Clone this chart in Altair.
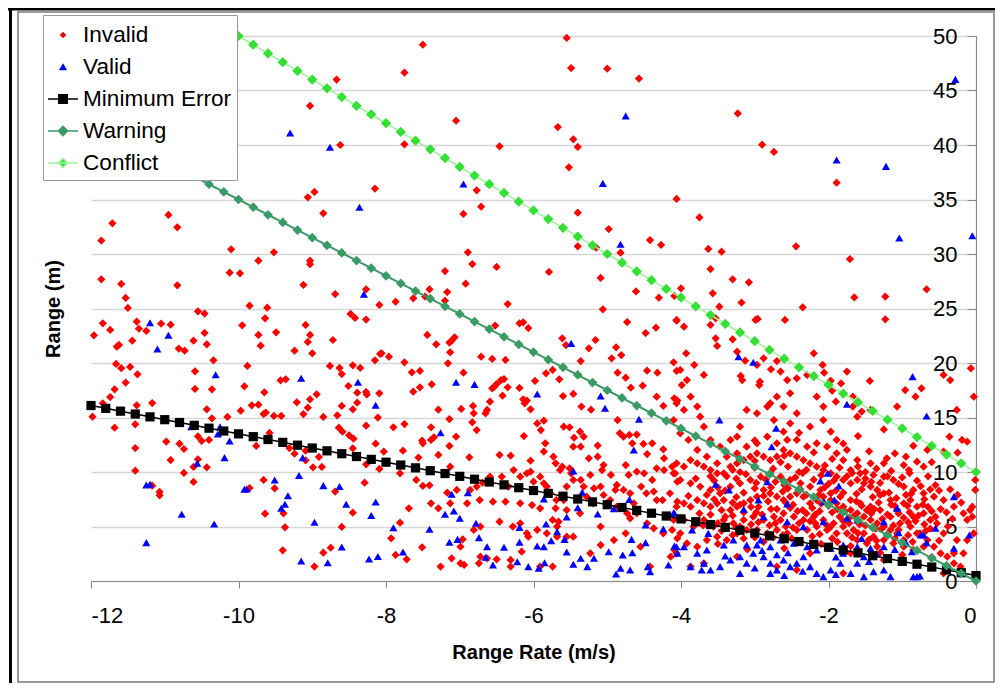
import altair as alt
import pandas as pd

# ---------------- data ----------------
invalid_pts = [
    (-9.06,35.20),(-8.97,35.69),(-8.15,36.00),(-8.85,33.73),(-10.95,33.58),(-11.71,32.82),(-10.83,32.45),(-11.86,31.23),
    (-10.10,30.43),(-9.52,30.16),(-9.73,29.39),(-9.03,29.39),(-9.03,29.06),(-10.12,28.29),(-9.98,28.23),(-11.86,27.68),
    (-11.59,27.25),(-10.83,27.13),(-9.12,27.16),(-11.53,25.97),(-8.69,26.33),(-8.27,26.76),(-11.50,25.05),(-10.55,24.74),
    (-10.46,24.53),(-9.85,25.26),(-9.61,25.08),(-9.64,24.10),(-8.48,24.50),(-8.42,24.13),(-8.27,23.98),(-8.09,25.33),
    (-11.84,23.64),(-11.38,23.80),(-11.35,23.15),(-11.74,23.03),(-11.25,22.94),(-11.05,23.61),(-10.92,23.52),(-9.95,23.46),
    (-9.09,23.49),(-11.96,22.54),(-10.46,22.76),(-9.73,22.57),(-9.49,22.82),(-9.03,22.57),(-11.65,21.50),(-11.62,21.66),
    (-11.44,22.05),(-10.81,21.32),(-10.73,21.13),(-10.61,22.05),(-10.43,21.72),(-9.70,21.59),(-9.06,21.93),(-8.72,22.11),
    (-9.24,21.13),(-9.00,20.89),(-8.08,20.83),(-11.66,19.91),(-11.59,19.52),(-11.47,19.64),(-11.37,18.96),(-10.59,19.24),
    (-10.34,20.25),(-9.88,19.73),(-8.76,19.73),(-8.63,19.55),(-8.60,18.99),(-8.45,19.79),(-8.35,19.55),(-8.15,20.25),
    (-11.53,18.20),(-11.68,17.59),(-11.74,16.88),(-11.84,16.30),(-11.98,15.08),(-11.68,14.07),(-11.38,16.12),(-11.17,16.33),
    (-11.40,14.38),(-11.40,12.20),(-11.40,10.12),(-10.98,12.79),(-10.92,11.10),(-10.80,12.60),(-10.74,12.11),(-10.59,17.62),
    (-10.36,17.59),(-10.43,15.75),(-10.36,14.93),(-10.55,13.27),(-10.50,12.85),(-10.40,12.94),(-10.55,11.16),(-10.61,10.46),
    (-10.43,10.43),(-10.74,9.91),(-10.61,9.09),(-11.17,8.75),(-11.07,8.17),(-11.07,7.86),(-10.15,15.05),(-9.97,15.63),
    (-9.92,17.86),(-9.65,17.31),(-9.82,16.12),(-9.73,16.18),(-9.66,15.32),(-9.63,15.45),(-9.52,15.14),(-9.42,15.14),
    (-9.43,18.41),(-9.36,18.50),(-9.58,13.58),(-9.76,12.39),(-9.31,12.20),(-9.24,11.68),(-9.09,11.96),(-9.03,16.67),
    (-8.94,17.13),(-9.21,16.39),(-9.12,15.32),(-9.06,15.90),(-8.85,15.05),(-8.66,15.20),(-8.51,17.89),(-8.39,17.28),
    (-8.39,16.36),(-8.45,15.75),(-8.27,17.34),(-8.26,17.10),(-8.09,17.22),(-8.60,16.06),(-8.64,14.07),(-8.59,13.70),
    (-8.50,13.37),(-8.44,13.06),(-8.45,12.17),(-9.09,11.07),(-8.99,10.43),(-8.91,11.38),(-8.87,10.46),(-8.27,14.25),
    (-8.14,12.60),(-8.11,14.99),(-8.09,10.28),(-8.27,10.71),(-8.29,9.02),(-8.69,8.20),(-8.45,6.27),(-8.60,4.96),
    (-8.75,3.06),(-8.85,2.60),(-8.97,1.32),(-9.37,4.93),(-9.40,2.82),(-9.39,6.21),(-9.64,6.18),(-9.66,9.27),
    (-9.51,8.50),(-9.85,8.53),
    (-7.50,49.20),(-7.75,46.64),(-5.55,49.82),(-5.49,47.06),(-5.00,47.00),(-4.57,46.09),(-7.05,42.23),(-5.67,41.65),
    (-5.46,40.52),(-5.40,39.82),(-7.75,40.06),(-6.46,39.88),(-5.52,37.95),(-6.77,35.84),(-6.71,34.34),(-6.95,33.67),
    (-5.40,33.79),(-4.98,32.29),(-4.06,35.05),(-4.42,31.28),(-4.27,30.83),(-5.40,30.70),(-5.15,30.58),(-4.82,30.12),
    (-6.89,30.15),(-6.83,29.08),(-7.20,28.44),(-6.50,28.81),(-5.79,28.35),(-6.92,27.28),(-7.41,26.76),(-7.17,26.51),
    (-7.63,25.93),(-7.47,26.09),(-7.20,25.72),(-7.87,25.63),(-6.35,25.41),(-5.09,27.80),(-4.61,26.57),(-4.30,25.99),
    (-4.09,26.15),(-4.00,26.85),(-5.06,24.92),
    (-4.06,23.88),(-4.73,23.76),(-4.34,23.24),(-4.48,22.75),(-6.19,23.64),(-6.14,23.73),(-6.07,23.21),(-6.52,23.43),
    (-7.44,22.57),(-7.32,21.71),(-7.14,21.87),(-7.11,22.05),(-7.07,22.36),(-7.13,20.98),(-7.16,19.97),(-6.71,20.58),
    (-6.56,20.37),(-6.38,20.28),(-8.06,20.89),(-7.96,20.58),(-7.75,20.06),(-7.65,19.14),(-7.54,19.27),(-7.38,18.04),
    (-7.54,17.77),(-7.63,17.37),(-7.29,15.72),(-7.14,14.86),(-6.98,15.78),(-6.95,19.11),(-6.82,16.06),(-6.81,15.38),
    (-6.83,14.56),(-6.77,13.85),(-6.63,15.69),(-6.65,15.38),(-6.59,16.45),(-6.56,17.68),(-6.53,17.83),(-6.50,18.07),
    (-6.44,18.44),(-6.40,18.53),(-6.42,17.00),(-6.35,17.77),(-6.19,17.71),(-6.14,16.67),(-6.12,16.30),(-6.04,15.75),
    (-6.09,16.55),(-5.98,18.35),(-5.83,19.05),(-5.74,19.36),(-5.65,18.50),(-5.60,16.97),(-5.46,17.16),(-5.35,16.00),
    (-5.22,15.72),(-5.36,20.18),(-5.25,21.35),(-5.16,22.11),(-5.61,22.26),(-5.56,21.65),(-4.88,21.44),(-4.81,20.73),
    (-4.94,20.43),(-4.86,19.11),(-4.75,18.65),(-4.68,17.74),(-4.52,17.92),(-4.33,16.91),(-4.24,16.06),(-4.46,19.30),
    (-4.32,19.11),(-4.10,20.06),(-4.06,19.27),(-4.09,16.76),(-4.05,16.55),(-7.90,14.10),(-7.75,14.40),(-7.39,14.10),
    (-7.35,13.18),(-7.14,12.39),(-7.05,13.24),(-8.03,11.87),(-7.77,11.96),(-7.56,11.32),(-7.50,12.63),(-7.51,12.87),
    (-7.39,12.94),(-7.29,11.56),(-7.13,10.49),(-6.87,11.35),(-6.46,11.56),(-6.31,11.50),(-6.13,13.30),(-6.04,11.04),
    (-5.95,14.46),(-5.90,13.85),(-5.86,14.71),(-5.84,12.63),(-5.86,11.87),(-5.73,11.41),(-5.70,10.80),(-5.61,10.49),
    (-5.64,10.18),(-5.51,10.34),(-5.49,9.88),(-5.59,14.16),(-5.51,14.10),(-5.45,13.15),(-5.37,13.70),(-5.32,13.24),
    (-5.46,12.32),(-5.36,12.32),(-5.13,12.42),(-5.13,11.41),(-5.23,9.73),(-5.25,11.26),(-5.05,10.64),(-5.07,10.18),
    (-4.95,9.73),(-4.83,13.55),(-4.86,14.77),(-4.78,13.24),(-4.70,13.40),(-4.66,12.63),(-4.60,13.43),(-4.51,12.57),
    (-4.39,12.63),(-4.46,11.65),(-4.24,12.08),(-4.23,11.26),(-4.12,10.49),(-4.08,9.88),(-4.05,9.11),(-4.23,10.18),
    (-4.33,10.34),(-4.39,9.27),(-4.50,9.88),(-4.54,8.66),(-4.47,8.04),(-4.37,8.20),(-4.33,7.43),(-4.15,8.04),
    (-4.05,7.28),(-4.25,7.43),(-4.60,10.03),(-4.71,9.73),(-4.75,10.64),(-4.87,8.81),(-4.89,8.35),(-4.78,8.35),
    (-4.69,8.04),(-4.64,7.13),(-4.73,6.21),(-4.87,6.82),(-4.96,7.43),(-5.05,7.89),(-5.09,8.66),(-5.18,8.50),
    (-5.19,7.13),(-5.28,7.74),(-5.32,8.66),(-5.36,9.27),(-5.46,9.27),(-5.55,8.66),(-5.59,7.43),(-5.69,7.43),
    (-5.77,8.04),(-5.82,8.66),(-5.86,8.96),(-5.91,9.57),(-6.00,9.11),(-6.04,10.03),(-6.09,9.88),(-6.18,9.57),
    (-6.27,10.18),(-6.34,8.66),(-6.43,9.57),(-6.59,9.57),(-6.69,9.02),(-6.77,8.66),(-6.86,8.35),(-6.90,7.13),
    (-6.73,7.43),(-6.55,7.28),(-6.38,7.28),(-6.18,7.13),(-6.02,6.97),(-5.91,6.67),(-5.70,6.67),(-5.55,6.51),
    (-5.37,6.21),(-5.09,4.99),(-5.74,5.60),(-5.66,5.44),(-5.68,4.99),(-6.18,5.29),(-6.28,4.99),(-6.46,5.44),
    (-6.72,4.99),(-6.81,4.68),(-6.96,3.82),(-6.99,3.15),(-7.11,2.08),(-6.99,1.62),(-7.26,1.32),(-6.94,1.47),
    (-6.74,1.62),(-6.72,2.23),(-6.63,2.08),(-6.50,1.99),(-6.31,1.32),(-6.31,1.93),(-6.16,2.69),(-6.07,4.07),
    (-5.91,1.32),(-5.74,1.32),(-5.55,4.07),(-5.46,4.07),(-5.68,4.07),(-5.82,4.37),(-5.95,4.68),(-6.09,4.37),
    (-5.23,2.54),(-5.09,3.30),(-4.91,3.76),(-4.75,4.37),(-4.55,3.15),(-4.42,1.32),(-4.24,4.37),(-4.12,4.68),
    (-4.05,3.92),(-4.09,2.85),(-4.14,2.23),(-4.37,4.83),(-4.46,5.29),(-4.69,5.75),(-4.60,6.21),(-7.93,3.92),
    (-7.87,2.39),(-7.72,1.99),(-7.51,3.09),(-7.50,8.72),(-7.59,9.27),(-7.41,8.78),(-7.81,9.88),(-7.69,6.67),
    (-7.81,5.35),(-7.39,7.13),(-7.13,7.13),(-7.29,6.67),(-7.04,8.35),(-7.17,8.10),
    (-3.23,42.90),(-2.90,40.03),(-2.74,39.36),(-1.89,36.54),(-3.75,33.36),(-3.63,30.46),(-3.45,30.21),(-3.60,28.62),
    (-2.44,30.70),(-1.71,29.54),(-3.30,27.68),(-3.08,27.40),(-3.57,26.39),(-3.18,25.54),(-3.48,25.17),(-2.35,25.11),
    (-1.65,26.02),(-1.23,26.09),(-0.67,26.76),
    (-4.06,23.95),(-3.96,23.33),(-3.93,20.89),(-4.01,19.36),(-3.92,18.44),(-3.99,17.98),(-3.69,18.90),(-3.82,19.82),
    (-3.60,23.49),(-3.53,24.10),(-3.51,21.56),(-3.53,22.26),(-3.30,22.17),(-2.99,23.95),(-2.96,24.04),(-2.59,23.95),
    (-1.23,24.01),(-3.24,21.04),(-3.17,18.44),(-3.19,18.81),(-3.13,20.21),(-2.97,19.82),(-2.88,20.43),(-2.78,19.42),
    (-2.93,18.29),(-2.94,17.98),(-2.70,20.18),(-2.65,19.21),(-2.56,18.44),(-2.70,16.91),(-2.79,16.30),(-2.61,16.00),
    (-2.52,17.22),(-2.43,18.59),(-2.29,18.90),(-2.20,20.89),(-2.08,19.82),(-2.06,19.11),(-1.97,18.38),(-1.95,17.46),
    (-2.16,16.91),(-2.07,16.00),(-1.90,16.45),(-1.83,18.13),(-1.75,19.21),(-1.67,16.91),(-1.67,16.00),(-1.61,15.08),
    (-1.44,18.35),(-1.55,15.54),(-1.43,15.69),(-1.07,16.00),(-0.96,17.52),(-0.82,16.91),(-0.74,17.68),(-0.44,18.90),
    (-0.35,18.44),(-0.26,15.69),(-0.07,19.51),(-0.03,16.91),(-0.19,12.94),(-0.12,12.78),(-0.44,11.87),(-0.66,12.02),
    (-0.71,10.49),(-0.80,10.95),(-0.91,10.18),(-0.98,10.64),(-1.21,11.26),(-1.43,10.80),(-1.61,11.10),(-1.75,12.02),
    (-1.89,12.94),(-1.97,13.70),(-2.07,14.77),(-2.25,14.16),(-2.43,15.38),(-2.52,14.47),(-2.61,13.70),(-2.74,14.77),
    (-2.83,16.00),(-2.97,15.38),(-3.11,15.69),(-3.20,14.16),(-3.24,13.24),(-3.33,12.94),(-3.47,12.32),(-3.60,12.94),
    (-3.69,14.16),(-3.74,15.08),(-3.78,16.00),(-3.87,16.91),(-3.96,15.69),(-4.06,16.30),(-4.10,14.77),(-4.01,13.55),
    (-3.90,12.94),(-3.78,12.02),(-3.65,11.41),(-3.51,10.80),(-3.38,11.41),(-3.24,11.71),(-3.11,12.32),(-2.97,12.63),
    (-2.83,13.24),(-2.70,12.63),(-2.56,12.94),(-2.43,12.94),(-2.29,12.32),(-2.16,12.63),(-2.02,12.32),(-1.89,11.71),
    (-1.80,11.10),(-1.70,10.18),(-1.57,9.88),(-1.39,9.73),(-1.25,9.57),(-1.12,9.27),(-0.98,8.66),(-0.85,8.35),
    (-0.71,8.04),(-0.57,7.74),(-0.44,7.43),(-0.30,6.82),(-0.17,6.21),(-0.05,6.82),(-0.01,8.35),(-0.01,9.27),
    (-0.05,5.90),(-0.03,4.37),(-0.12,3.76),(-0.26,3.76),(-0.30,2.54),(-0.44,4.37),(-0.53,5.29),(-0.62,5.60),
    (-0.71,6.21),(-0.80,6.82),(-0.89,7.43),(-0.98,7.13),(-1.07,6.51),(-1.16,7.43),(-1.25,8.04),(-1.34,8.35),
    (-1.43,8.66),(-1.52,8.96),(-1.61,9.27),(-1.70,8.96),(-1.80,9.27),(-1.89,9.57),(-1.97,9.88),(-2.07,10.18),
    (-2.16,10.49),(-2.25,10.80),(-2.34,11.10),(-2.43,11.41),(-2.52,11.71),(-2.61,12.02),(-2.70,11.41),(-2.79,11.10),
    (-2.88,11.41),(-2.97,11.71),(-3.06,11.41),(-3.15,11.10),(-3.24,10.80),(-3.33,10.49),(-3.42,9.88),(-3.51,9.88),
    (-3.60,10.18),(-3.69,10.49),(-3.78,10.80),(-3.87,11.10),(-3.96,10.49),(-4.06,10.80),(-4.10,9.88),(-4.01,9.27),
    (-3.87,8.96),(-3.74,8.66),(-3.60,8.35),(-3.47,8.04),(-3.33,8.66),(-3.20,8.96),(-3.06,9.27),(-2.92,9.57),
    (-2.79,9.88),(-2.65,9.57),(-2.52,9.27),(-2.38,8.96),(-2.25,8.66),(-2.11,8.35),(-1.97,8.04),(-1.84,7.74),
    (-1.70,7.43),(-1.57,7.13),(-1.43,6.82),(-1.30,6.51),(-1.16,5.90),(-1.03,5.29),(-0.89,4.99),(-0.76,4.37),
    (-0.66,3.76),(-0.57,3.15),(-0.48,2.54),(-0.39,2.23),(-0.30,1.62),(-0.21,1.32),(-0.17,2.54),(-0.44,0.70),
    (-0.98,3.76),(-1.07,4.37),(-1.16,4.68),(-1.25,4.99),(-1.34,5.29),(-1.43,5.60),(-1.52,5.90),(-1.61,6.21),
    (-1.70,6.51),(-1.80,6.82),(-1.89,7.13),(-1.97,7.43),(-2.07,7.74),(-2.16,7.43),(-2.25,7.13),(-2.34,7.74),
    (-2.43,8.04),(-2.52,7.74),(-2.61,7.43),(-2.70,7.74),(-2.79,8.04),(-2.88,8.35),(-2.97,7.74),(-3.06,7.43),
    (-3.15,7.13),(-3.24,6.82),(-3.33,6.51),(-3.42,7.43),(-3.51,7.13),(-3.60,6.82),(-3.69,7.13),(-3.78,7.43),
    (-3.87,6.82),(-3.96,7.13),(-4.06,6.82),(-4.10,5.60),(-3.96,5.60),(-3.83,4.99),(-3.69,5.60),(-3.56,4.99),
    (-3.42,5.60),(-3.29,5.29),(-3.15,5.60),(-3.02,5.90),(-2.88,5.60),(-2.74,5.90),(-2.61,6.21),(-2.47,5.90),
    (-2.34,5.60),(-2.20,5.90),(-2.07,5.60),(-1.93,5.29),(-1.80,4.99),(-1.66,4.68),(-1.52,4.37),(-1.39,4.07),
    (-1.25,3.76),(-1.12,3.46),(-0.98,3.15),(-0.85,2.85),(-0.71,3.15),(-0.80,4.37),(-1.34,3.15),(-1.48,3.46),
    (-1.61,3.76),(-1.75,4.37),(-1.89,4.37),(-2.02,4.68),(-2.16,4.99),(-2.29,4.68),(-2.43,4.68),(-2.56,4.37),
    (-2.70,4.68),(-2.83,4.37),(-2.97,4.68),(-3.11,4.68),(-3.24,4.37),(-3.38,3.76),(-3.51,4.07),(-3.65,3.76),
    (-3.78,3.15),(-3.92,3.46),(-4.01,4.37),(-4.06,2.54),(-3.87,1.32),(-3.69,1.62),(-3.24,2.23),(-2.70,1.32),
    (-2.25,2.54),(-1.70,2.54),(-1.25,1.93),(-1.80,0.70),(-2.43,1.01),
    (-0.25,11.77),(-0.36,13.24),(-0.08,6.51),(-0.12,5.60),(-8.67,46.00),(-8.62,40.00),(-9.03,43.60),
    # dense core, extra readings
    (-3.30,10.20),(-3.00,10.40),(-2.75,10.30),(-2.55,10.50),(-2.30,10.20),(-2.05,10.60),(-1.85,10.40),(-1.60,10.50),
    (-1.35,10.30),(-1.15,10.10),(-0.90,9.90),(-0.65,9.60),
    (-3.55,9.20),(-3.25,9.40),(-2.98,9.00),(-2.72,9.10),(-2.45,9.50),(-2.20,9.30),(-2.00,8.90),(-1.75,9.60),
    (-1.50,9.40),(-1.30,9.00),(-1.05,8.90),(-0.80,9.20),(-0.55,8.80),(-0.35,8.40),
    (-3.65,7.90),(-3.40,8.30),(-3.15,8.10),(-2.88,7.80),(-2.62,8.20),(-2.38,8.40),(-2.13,7.90),(-1.90,8.30),
    (-1.62,8.00),(-1.40,7.70),(-1.18,8.10),(-0.95,7.90),(-0.70,7.50),(-0.50,8.30),(-0.25,7.90),
    (-3.45,6.50),(-3.20,7.00),(-2.95,6.80),(-2.70,6.60),(-2.48,7.00),(-2.22,6.70),(-2.00,6.90),(-1.78,6.40),
    (-1.55,6.90),(-1.32,7.20),(-1.10,6.90),(-0.90,6.30),(-0.65,6.80),(-0.40,6.30),(-0.20,7.20),
    (-3.60,6.10),(-3.30,6.00),(-2.98,6.30),(-2.78,6.60),(-2.52,6.70),(-2.30,6.20),(-2.12,6.40),(-1.85,5.90),
    (-1.65,6.00),(-1.42,6.20),(-1.20,6.10),(-0.98,5.80),(-0.78,6.00),(-0.55,5.90),(-0.32,5.70),
    (-3.50,5.30),(-3.25,4.90),(-3.05,5.20),(-2.80,5.10),(-2.58,5.00),(-2.40,5.30),(-2.18,5.30),(-1.98,4.90),
    (-1.72,5.30),(-1.50,5.10),(-1.28,4.80),(-1.05,4.70),(-0.82,5.50),(-0.62,4.80),(-0.38,5.00),
    (-3.30,4.20),(-3.00,4.00),(-2.75,4.00),(-2.50,3.90),(-2.22,4.10),(-1.95,3.90),(-1.68,4.00),(-1.45,3.80),
    (-1.20,4.30),(-0.92,4.20),(-0.68,4.60),(-0.50,3.70),
    (-3.00,12.90),(-2.60,11.50),(-2.20,11.80),(-1.80,12.60),(-1.45,11.90),(-1.10,11.70),(-0.85,12.40),(-2.40,13.60),
    (-1.60,13.30),(-1.25,13.90),
    (-2.60,3.00),(-2.10,3.40),(-1.70,3.20),(-1.30,2.60),(-1.00,2.40),(-0.60,2.20),(-3.10,2.90),
    (-3.38,9.60),(-3.12,9.80),(-2.85,9.30),(-2.60,8.80),(-2.35,9.90),(-2.10,9.70),(-1.93,9.20),(-1.68,9.90),
    (-1.42,9.10),(-1.20,9.60),(-1.00,9.50),(-0.75,8.70),
    (-3.50,8.60),(-3.25,7.70),(-3.00,8.50),(-2.78,8.60),(-2.55,8.50),(-2.30,7.90),(-2.05,8.60),(-1.80,8.10),
    (-1.55,8.40),(-1.30,7.90),(-1.08,7.60),(-0.88,8.00),(-0.62,8.40),
    (-3.55,7.50),(-3.30,7.20),(-3.05,6.80),(-2.82,7.30),(-2.58,7.20),(-2.35,6.50),(-2.10,7.10),(-1.88,6.60),
    (-1.62,7.30),(-1.38,6.60),(-1.15,7.00),(-0.93,6.90),(-0.72,7.00),(-0.48,6.60),
    (-3.40,5.90),(-3.15,6.30),(-2.90,6.10),(-2.65,5.60),(-2.42,6.40),(-2.18,6.10),(-1.95,6.30),(-1.72,5.80),
    (-1.48,6.50),(-1.27,5.70),(-1.05,6.20),(-0.85,5.90),(-0.60,6.40),
    (-3.45,4.60),(-3.20,5.00),(-2.95,5.40),(-2.72,5.30),(-2.48,4.90),(-2.25,5.50),(-2.02,5.10),(-1.80,5.50),
    (-1.58,5.20),(-1.36,4.80),(-1.12,5.10),(-0.92,5.40),(-0.70,5.20),
    (-3.15,3.90),(-2.88,3.60),(-2.62,4.20),(-2.38,3.60),(-2.12,4.30),(-1.88,3.60),(-1.60,4.40),(-1.35,3.70),
    (-1.10,3.90),(-0.86,3.60),
    (-3.00,11.00),(-2.65,10.90),(-2.40,10.00),(-1.95,11.20),(-1.50,10.00),(-1.25,10.80),(-0.95,11.40),(-0.60,10.90),
    (-3.20,10.00),(-3.60,9.60),(-3.80,9.40),(-3.90,7.80),(-3.75,6.20),(-3.70,5.10),(-3.50,3.40),
]

valid_pts = [
    (-8.36,34.29),(-8.30,26.30),(-11.20,23.70),(-10.95,22.54),(-11.10,21.29),(-10.31,18.93),(-9.15,18.60),
    (-8.38,18.23),(-8.14,16.12),(-10.64,14.16),(-10.25,14.16),(-10.28,13.49),(-10.12,12.85),(-10.19,11.32),(-10.56,10.80),
    (-9.13,11.32),(-11.25,8.81),(-11.20,8.87),(-9.89,8.44),(-9.92,8.41),(-9.51,9.27),(-9.18,9.67),(-9.33,7.83),
    (-9.37,7.04),(-9.42,6.67),(-8.85,8.75),(-8.63,8.66),(-8.54,7.04),(-8.20,6.00),(-8.14,7.25),(-10.77,6.12),
    (-10.33,5.23),(-8.97,5.39),(-11.25,3.52),(-8.60,3.12),(-9.15,1.84),(-8.79,1.68),(-8.23,2.02),(-8.11,2.24),
    (-4.75,42.66),(-6.95,36.42),(-5.06,36.48),(-4.82,30.89),
    (-5.49,21.80),(-7.05,18.23),(-6.80,18.04),(-5.95,17.16),(-5.09,16.97),(-5.03,15.84),(-4.57,14.83),(-7.26,13.61),
    (-4.64,12.02),(-5.46,10.09),(-5.34,8.14),(-5.86,7.52),(-5.40,6.73),(-7.11,7.95),(-6.89,8.10),(-4.70,7.49),
    (-4.91,6.64),(-4.10,6.27),(-5.13,6.15),(-4.48,5.14),(-4.24,4.77),(-7.20,6.12),(-7.08,6.42),(-7.00,5.75),
    (-6.78,5.29),(-7.90,4.89),(-7.41,4.74),(-6.19,4.92),(-5.83,5.23),(-5.55,5.87),(-5.68,4.53),(-5.58,3.82),
    (-5.76,3.70),(-5.86,3.15),(-5.95,3.21),(-6.19,3.55),(-6.40,3.09),(-6.63,3.15),(-6.74,3.98),(-7.03,3.82),
    (-7.14,3.55),(-7.77,2.66),(-6.65,2.17),(-6.55,1.47),(-6.22,1.77),(-6.07,1.32),(-5.93,1.16),(-5.85,1.68),
    (-5.55,2.66),(-5.46,1.53),(-5.36,2.08),(-5.27,1.32),(-5.18,2.08),(-4.98,2.69),(-4.79,2.39),(-4.66,2.60),
    (-4.67,3.82),(-4.48,3.52),(-4.69,1.01),(-4.82,1.16),(-4.88,0.64),(-4.45,1.32),(-4.42,0.86),(-4.17,1.47),
    (-4.09,3.21),(-4.05,2.54),
    (-0.28,46.02),(-1.89,38.62),(-1.22,38.04),(-1.04,31.47),(-0.05,31.68),
    (-3.22,20.58),(-3.02,20.06),(-3.48,14.77),(-2.71,14.01),(-2.77,12.32),(-1.75,16.21),(-2.01,9.88),(-2.11,9.17),
    (-1.86,8.72),(-1.92,7.43),(-2.06,7.28),(-3.53,8.87),(-3.35,8.35),(-2.95,7.43),(-2.83,9.11),(-2.56,7.07),
    (-3.15,6.58),(-2.88,5.90),(-2.56,5.44),(-2.34,4.99),(-2.07,5.44),(-1.75,5.75),(-1.61,5.60),(-1.25,5.44),
    (-1.07,6.67),(-0.87,2.69),(-0.71,4.22),(-0.55,4.83),(-0.30,7.74),(-0.30,3.00),(-0.09,4.22),(-0.67,3.52),
    (-4.09,6.21),(-3.85,4.68),(-3.63,4.37),(-4.06,3.15),(-3.96,3.15),(-3.65,2.85),(-3.42,3.30),(-3.29,3.76),
    (-3.11,3.30),(-2.97,3.30),(-2.79,3.15),(-2.65,3.76),(-2.47,3.46),(-2.29,3.15),(-2.16,2.85),(-1.97,3.00),
    (-1.80,3.30),(-1.61,3.15),(-1.43,3.00),(-1.25,3.15),(-3.78,2.54),(-3.87,1.32),(-3.69,1.62),(-3.47,1.32),
    (-3.33,1.93),(-3.20,0.70),(-3.11,1.62),(-3.02,2.54),(-2.88,2.23),(-2.79,0.70),(-2.70,1.01),(-2.61,1.93),
    (-2.52,1.32),(-2.43,1.62),(-2.34,2.23),(-2.25,1.32),(-2.16,0.70),(-2.07,0.40),(-1.97,1.01),(-1.84,1.62),
    (-1.70,0.70),(-1.61,1.62),(-1.52,0.40),(-1.39,0.86),(-1.25,1.01),(-1.16,0.40),(-0.80,0.40),(-0.98,1.93),
    (-1.80,2.54),(-1.52,2.23),(-2.79,1.62),(-2.92,3.76),(-3.20,2.23),(-3.60,1.01),(-3.72,1.01),
    (-0.86,18.75),(-0.67,15.14),(-1.05,4.43),(-0.75,4.22),(-0.85,0.40),(-0.76,0.46),(-9.30,41.10),(-8.76,39.80),
    (-2.90,2.80),(-2.55,2.60),(-2.20,3.50),(-1.90,2.20),(-1.45,1.80),(-1.35,2.50),(-1.10,2.90),(-0.95,3.50),
    (-2.60,0.50),(-2.35,0.90),(-1.90,0.60),(-3.40,2.30),(-3.00,1.20),(-1.55,3.90),(-2.70,2.40),
]

line_x = [-12.0,-11.8,-11.6,-11.4,-11.2,-11.0,-10.8,-10.6,-10.4,-10.2,-10.0,-9.8,-9.6,-9.4,-9.2,-9.0,
          -8.8,-8.6,-8.4,-8.2,-8.0,-7.8,-7.6,-7.4,-7.2,-7.0,-6.8,-6.6,-6.4,-6.2,-6.0,-5.8,-5.6,-5.4,
          -5.2,-5.0,-4.8,-4.6,-4.4,-4.2,-4.0,-3.8,-3.6,-3.4,-3.2,-3.0,-2.8,-2.6,-2.4,-2.2,-2.0,-1.8,
          -1.6,-1.4,-1.2,-1.0,-0.8,-0.6,-0.4,-0.2,0.0]
min_error_y = [16.1,15.84,15.58,15.32,15.06,14.8,14.54,14.28,14.02,13.76,13.5,13.24,12.98,12.72,12.46,12.2,
               11.94,11.68,11.42,11.16,10.9,10.64,10.38,10.12,9.86,9.6,9.34,9.08,8.82,8.56,8.3,8.04,7.78,7.52,
               7.26,7.0,6.74,6.48,6.22,5.96,5.7,5.44,5.18,4.92,4.66,4.4,4.14,3.88,3.62,3.36,3.1,2.84,
               2.58,2.32,2.06,1.8,1.54,1.28,1.02,0.76,0.5]
warning_y = [42.0,41.3,40.6,39.9,39.2,38.5,37.8,37.1,36.4,35.7,35.0,34.3,33.6,32.9,32.2,31.5,
             30.8,30.1,29.4,28.7,28.0,27.3,26.6,25.9,25.2,24.5,23.8,23.1,22.4,21.7,21.0,20.3,19.6,18.9,
             18.2,17.5,16.8,16.1,15.4,14.7,14.0,13.3,12.6,11.9,11.2,10.5,9.8,9.1,8.4,7.7,7.0,6.3,
             5.6,4.9,4.2,3.5,2.8,2.1,1.4,0.7,0.0]
conflict_x = [-10.0,-9.8,-9.6,-9.4,-9.2,-9.0,-8.8,-8.6,-8.4,-8.2,-8.0,-7.8,-7.6,-7.4,-7.2,-7.0,
              -6.8,-6.6,-6.4,-6.2,-6.0,-5.8,-5.6,-5.4,-5.2,-5.0,-4.8,-4.6,-4.4,-4.2,-4.0,-3.8,-3.6,-3.4,
              -3.2,-3.0,-2.8,-2.6,-2.4,-2.2,-2.0,-1.8,-1.6,-1.4,-1.2,-1.0,-0.8,-0.6,-0.4,-0.2,0.0]
conflict_y = [50.0,49.2,48.4,47.6,46.8,46.0,45.2,44.4,43.6,42.8,42.0,41.2,40.4,39.6,38.8,38.0,
              37.2,36.4,35.6,34.8,34.0,33.2,32.4,31.6,30.8,30.0,29.2,28.4,27.6,26.8,26.0,25.2,24.4,23.6,
              22.8,22.0,21.2,20.4,19.6,18.8,18.0,17.2,16.4,15.6,14.8,14.0,13.2,12.4,11.6,10.8,10.0]

x_ticks = [-12, -10, -8, -6, -4, -2, 0]
y_ticks = [0, 5, 10, 15, 20, 25, 30, 35, 40, 45, 50]

series_names = ["Invalid", "Valid", "Minimum Error", "Warning", "Conflict"]
RED, BLUE, BLACK, SEA, LIME, LIME_LINE = "#ff0000", "#0000ff", "#000000", "#3a9a64", "#33e033", "#9ef59e"

# ---------------- chart ----------------
W, H = 885, 545
FONT = "Liberation Sans"

inv_df = pd.DataFrame(invalid_pts, columns=["x", "y"])
val_df = pd.DataFrame(valid_pts, columns=["x", "y"])
me_df = pd.DataFrame({"x": line_x, "y": min_error_y})
wa_df = pd.DataFrame({"x": line_x, "y": warning_y})
co_df = pd.DataFrame({"x": conflict_x, "y": conflict_y})
leg_df = pd.DataFrame({"x": [0.0] * 5, "y": [0.0] * 5, "series": series_names})
one = pd.DataFrame({"a": [0]})

xscale = alt.Scale(domain=[-12, 0], nice=False, zero=False)
yscale = alt.Scale(domain=[0, 50], nice=False, zero=False)

xaxis = alt.Axis(values=x_ticks, labelExpr="'' + datum.value", labelFont=FONT, labelFontSize=22,
                 labelColor="black", labelPadding=17, tickSize=7, tickColor="#8a8a8a",
                 domainColor="#8a8a8a", domainWidth=1.2, grid=False,
                 title="Range Rate (m/s)", titleFont=FONT, titleFontSize=20, titleFontWeight="bold",
                 titleColor="black", titleY=77, titleBaseline="alphabetic")
yaxis = alt.Axis(orient="left", offset=-W, values=y_ticks, labelFont=FONT, labelFontSize=22,
                 labelColor="black", labelPadding=10, tickSize=9, tickColor="#8a8a8a",
                 domainColor="#8a8a8a", domainWidth=1.2, grid=True, gridColor="#d6d6d6", gridWidth=1.3,
                 title="Range (m)", titleFont=FONT, titleFontSize=20, titleFontWeight="bold",
                 titleColor="black", titleAngle=270, titleX=-923, titleY=H / 2,
                 titleAlign="center", titleBaseline="middle")

X = alt.X("x:Q", scale=xscale, axis=xaxis)
Y = alt.Y("y:Q", scale=yscale, axis=yaxis)

invalid = alt.Chart(inv_df).mark_point(shape="diamond", filled=True, size=68, color=RED, opacity=1,
                                       strokeWidth=0).encode(x=X, y=Y)
valid = alt.Chart(val_df).mark_point(shape="triangle-up", filled=True, size=66, color=BLUE, opacity=1,
                                     strokeWidth=0).encode(x=X, y=Y)

me_line = alt.Chart(me_df).mark_line(color=BLACK, strokeWidth=1.5).encode(x=X, y=Y)
me_pts = alt.Chart(me_df).mark_point(shape="square", filled=True, size=85, color=BLACK, opacity=1,
                                     strokeWidth=0).encode(x=X, y=Y)
wa_line = alt.Chart(wa_df).mark_line(color=SEA, strokeWidth=2).encode(x=X, y=Y)
wa_pts = alt.Chart(wa_df).mark_point(shape="diamond", filled=True, size=95, color=SEA, opacity=1,
                                     strokeWidth=0).encode(x=X, y=Y)
co_line = alt.Chart(co_df).mark_line(color=LIME_LINE, strokeWidth=1.6).encode(x=X, y=Y)
co_pts = alt.Chart(co_df).mark_point(shape="diamond", filled=True, size=105, color=LIME, opacity=1,
                                     strokeWidth=0).encode(x=X, y=Y)

# legend (built from a filtered-out helper layer; symbols via custom paths)
leg_paths = [
    "M-0.16,0L0,-0.16L0.16,0L0,0.16Z",
    "M0,-0.17L0.2,0.17L-0.2,0.17Z",
    "M-1.07,0L1.07,0M-0.3,-0.3L0.3,-0.3L0.3,0.3L-0.3,0.3Z",
    "M-1.07,0L1.07,0M-0.33,0L0,-0.33L0.33,0L0,0.33Z",
    "M-1.07,0L1.07,0M-0.33,0L0,-0.33L0.33,0L0,0.33Z",
]
leg_fill = [RED, BLUE, BLACK, SEA, LIME]
leg_stroke = [RED, BLUE, BLACK, SEA, LIME_LINE]
leg = alt.Legend(title=None, orient="none", legendX=-48, legendY=-21, labelFont=FONT, labelFontSize=22.6,
                 labelColor="black", labelOffset=5, symbolSize=784, symbolStrokeWidth=1.5,
                 rowPadding=5, padding=5, strokeColor="#9a9a9a", fillColor="white", cornerRadius=0,
                 symbolOpacity=1)
legend_layer = alt.Chart(leg_df).transform_filter("datum.x > 999").mark_point(filled=True).encode(
    x=X, y=Y,
    fill=alt.Fill("series:N", scale=alt.Scale(domain=series_names, range=leg_fill), legend=leg),
    stroke=alt.Stroke("series:N", scale=alt.Scale(domain=series_names, range=leg_stroke), legend=leg),
    shape=alt.Shape("series:N", scale=alt.Scale(domain=series_names, range=leg_paths), legend=leg),
)

gray_frame = alt.Chart(one).mark_rect(fill=None, stroke="#7a7a7a", strokeWidth=1.5).encode(
    x=alt.value(-73), x2=alt.value(903), y=alt.value(-24), y2=alt.value(646))
black_top = alt.Chart(one).mark_rule(color="black", strokeWidth=2.5).encode(
    x=alt.value(-83), x2=alt.value(904), y=alt.value(-26.8))
black_left = alt.Chart(one).mark_rule(color="black", strokeWidth=3).encode(
    x=alt.value(-80.5), y=alt.value(-28), y2=alt.value(647))

chart = alt.layer(
    invalid, valid, me_line, me_pts, wa_line, wa_pts, co_line, co_pts, legend_layer,
    gray_frame, black_top, black_left,
).properties(
    width=W, height=H,
    autosize=alt.AutoSizeParams(type="none"),
    padding={"left": 83, "top": 28, "right": 19, "bottom": 102},
    background="white",
).configure_view(stroke=None)

chart.save("out.html", embed_options={"renderer": "svg", "actions": False})
